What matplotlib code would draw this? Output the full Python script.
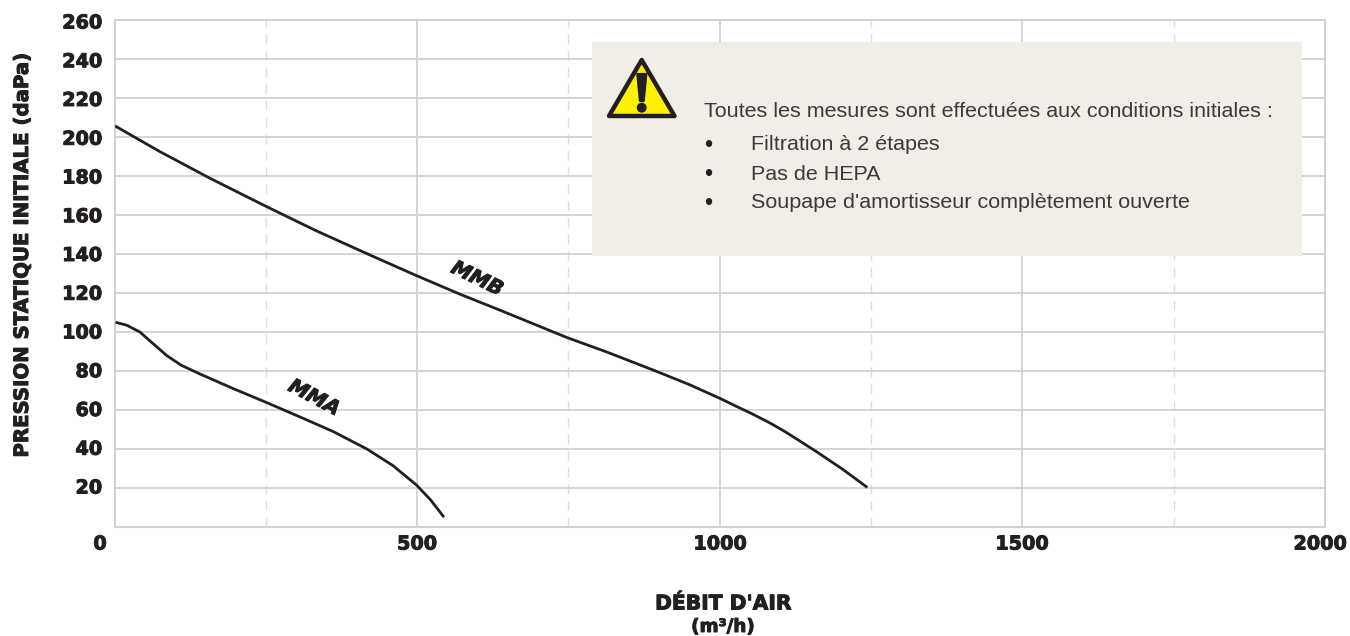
import matplotlib
matplotlib.use('Agg')
import matplotlib.pyplot as plt
import matplotlib.patheffects as pe
from matplotlib.patches import Polygon, Rectangle, Ellipse

mma_x = [4, 20, 42, 62, 86, 110, 141, 196, 250, 306, 361, 417, 460, 499, 522, 543]
mma_y = [104.8, 103.5, 100, 94.5, 88, 83, 78.5, 71, 64, 56.5, 49, 40, 31.5, 21.5, 14, 5.6]
mmb_x = [3, 75, 158, 248, 334, 422, 499, 570, 636, 748, 812, 890, 950, 1000, 1030, 1055, 1085, 1110, 1160, 1204, 1242]
mmb_y = [205.3, 192.5, 178.8, 164.8, 151.8, 139.5, 128.9, 119.5, 111.3, 97.1, 89.9, 80.5, 73, 66, 61.5, 57.8, 53, 48.5, 38.6, 29.4, 20.7]
x_major = [0, 500, 1000, 1500, 2000]
x_minor = [250, 750, 1250, 1750]
y_ticks = [20, 40, 60, 80, 100, 120, 140, 160, 180, 200, 220, 240, 260]
notes = ["Filtration à 2 étapes", "Pas de HEPA", "Soupape d'amortisseur complètement ouverte"]

W, H = 1350, 636
GRID = '#d2d2d2'
INK = '#231f20'
BOLD = 'DejaVu Sans'
LIGHT = 'Liberation Sans'
heavy = [pe.withStroke(linewidth=0.7, foreground=INK)]


def fx(px):
    return px / W


def fy(py):
    return 1 - py / H


def label(px, py, txt, size, ha='center', **kw):
    fig.text(fx(px), fy(py), txt, ha=ha, va='center', fontsize=size, fontweight='bold',
             family=BOLD, color=INK, path_effects=heavy, **kw)


fig = plt.figure(figsize=(W / 100, H / 100), dpi=100)
ax = fig.add_axes([fx(114.5), fy(527), fx(1325 - 114.5), (527 - 20) / H])
ax.set_xlim(0, 2000)
ax.set_ylim(0, 260)

ax.set_xticks(x_major)
ax.set_xticks(x_minor, minor=True)
ax.set_yticks(y_ticks)
ax.grid(True, which='major', color=GRID, lw=1.3, zorder=1)
ax.grid(True, which='minor', axis='x', color='#dddddd', lw=1.0, ls=(0, (7, 5)), zorder=1)
for s in ax.spines.values():
    s.set_color(GRID)
    s.set_linewidth(1.5)
ax.tick_params(which='both', length=0)
ax.set_xticklabels([])
ax.set_yticklabels([])

ax.plot(mma_x, mma_y, color=INK, lw=2.0, zorder=3, solid_joinstyle='round')
ax.plot(mmb_x, mmb_y, color=INK, lw=2.0, zorder=3, solid_joinstyle='round')

# the printed labels drift a little from the gridlines towards the top
for v in y_ticks:
    label(102, 488 - (v - 20) * 1.9375, str(v), 13.8, ha='right')
for v, px in zip(x_major, [100, 417, 720, 1022, 1320]):
    label(px, 544, str(v), 13.8)

label(22.5, 255, 'PRESSION STATIQUE INITIALE (daPa)', 14.2, rotation=90)
label(723, 604, "DÉBIT D'AIR", 14.6)
label(723, 627, '(m³/h)', 13.2)
label(477, 279, 'MMB', 14.4, rotation=-26, style='italic')
label(314, 398, 'MMA', 14.4, rotation=-28, style='italic')

# note box
ft = fig.transFigure
ax.add_patch(Rectangle((fx(592), fy(256)), (1302 - 592) / W, (256 - 42) / H, transform=ft,
                       facecolor='#f1eee7', edgecolor='none', zorder=4, clip_on=False))
ax.add_patch(Polygon([(fx(641.7), fy(60)), (fx(674.5), fy(116)), (fx(609), fy(116))], transform=ft,
                     closed=True, facecolor='#fff200', edgecolor=INK, lw=3.2, joinstyle='round',
                     zorder=5, clip_on=False))
ax.add_patch(Polygon([(fx(637.3), fy(74)), (fx(646.3), fy(74)), (fx(643.7), fy(101)), (fx(640), fy(101))],
                     transform=ft, closed=True, facecolor=INK, edgecolor=INK, lw=1.6,
                     joinstyle='round', zorder=6, clip_on=False))
ax.add_patch(Ellipse((fx(641.7), fy(107.7)), 10 / W, 10 / H, transform=ft, facecolor=INK,
                     edgecolor='none', zorder=6, clip_on=False))

fig.text(fx(704), fy(111.5), 'Toutes les mesures sont effectuées aux conditions initiales :', ha='left',
         va='center', fontsize=15.45, family=LIGHT, color='#3a3a3a', zorder=7)
for txt, py in zip(notes, [144, 173, 202]):
    fig.text(fx(708), fy(py + 2), '•', ha='center', va='center', fontsize=17, family=LIGHT, color=INK, zorder=7)
    fig.text(fx(751), fy(py + 1), txt, ha='left', va='center', fontsize=15.45, family=LIGHT, color='#3a3a3a', zorder=7)

fig.savefig('out.png', dpi=100)
